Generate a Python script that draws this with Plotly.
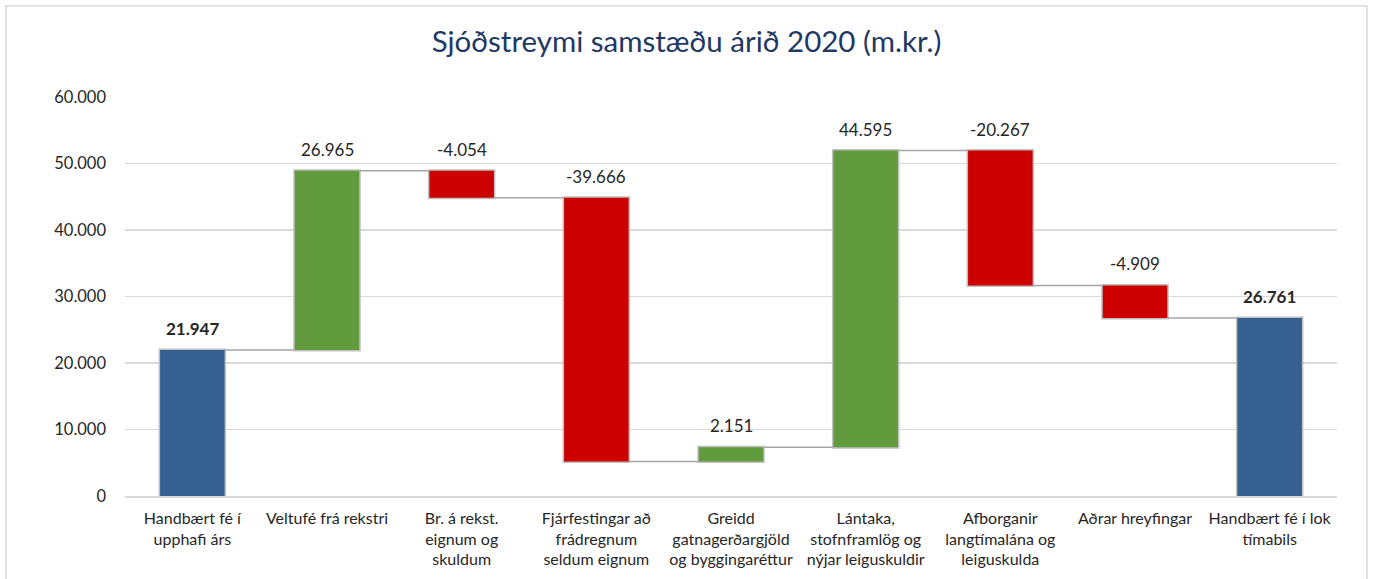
import plotly.graph_objects as go

categories = [
    "Handbært fé í<br>upphafi árs",
    "Veltufé frá rekstri",
    "Br. á rekst.<br>eignum og<br>skuldum",
    "Fjárfestingar að<br>frádregnum<br>seldum eignum",
    "Greidd<br>gatnagerðargjöld<br>og byggingaréttur",
    "Lántaka,<br>stofnframlög og<br>nýjar leiguskuldir",
    "Afborganir<br>langtímalána og<br>leiguskulda",
    "Aðrar hreyfingar",
    "Handbært fé í lok<br>tímabils",
]
values = [21947, 26965, -4054, -39666, 2151, 44595, -20267, -4909, 26761]
measures = ["absolute", "relative", "relative", "relative", "relative",
            "relative", "relative", "relative", "total"]
labels = ["<b>21.947</b>", "26.965", "-4.054", "-39.666", "2.151",
          "44.595", "-20.267", "-4.909", "<b>26.761</b>"]
y_ticks = [0, 10000, 20000, 30000, 40000, 50000, 60000]

W, H = 1373, 579
ML, MT = 125, 97
PW, PH = 1212, 399
MR = W - ML - PW
MB = H - MT - PH

FONT = "Lato"
BLUE = "#376092"
GREEN = "#629B3E"
RED = "#CC0000"
EDGE = "#BFBFBF"

fig = go.Figure()
fig.add_trace(go.Waterfall(
    x=categories, y=values, measure=measures,
    width=0.49,
    increasing=dict(marker=dict(color=GREEN, line=dict(color=EDGE, width=1.5))),
    decreasing=dict(marker=dict(color=RED, line=dict(color=EDGE, width=1.5))),
    totals=dict(marker=dict(color=BLUE, line=dict(color=EDGE, width=1.5))),
    connector=dict(line=dict(color="#A6A6A6", width=1.5), mode="between"),
    hoverinfo="skip",
    showlegend=False,
))

run = 0
tops = []
for v, m in zip(values, measures):
    if m in ("absolute", "total"):
        start, end = 0, v
        run = v
    else:
        start, end = run, run + v
        run = run + v
    tops.append(max(start, end))

for c, t, lab in zip(categories, tops, labels):
    fig.add_annotation(x=c, y=t, text=lab, showarrow=False, yanchor="bottom",
                       yshift=9, font=dict(family=FONT, size=17, color="#262626"))

# outer frame
fx0 = (6 - ML) / PW
fx1 = (1367 - ML) / PW
fy1 = (H - MB - 6) / PH
fy0 = (H - MB - 620) / PH
fig.add_shape(type="rect", xref="paper", yref="paper", x0=fx0, x1=fx1, y0=fy0, y1=fy1,
              line=dict(color="#D9D9D9", width=1.5), layer="below")

fig.update_layout(
    width=W, height=H,
    margin=dict(l=ML, r=MR, t=MT, b=MB, autoexpand=False),
    paper_bgcolor="white", plot_bgcolor="white",
    separators=",.",
    title=dict(text="Sjóðstreymi samstæðu árið 2020 (m.kr.)", x=0.5, xanchor="center",
               xref="container",
               y=1 - 42 / H, yanchor="middle",
               font=dict(family=FONT, size=29.5, color="#1F3864")),
    font=dict(family=FONT, size=16, color="#262626"),
    xaxis=dict(showgrid=False, showline=True, linecolor="#D9D9D9", linewidth=1.5,
               ticks="", ticklabelstandoff=7, automargin=False,
               tickfont=dict(family=FONT, size=16, color="#262626")),
    yaxis=dict(range=[0, 60000], tickvals=y_ticks, tickformat=",d", showgrid=True,
               gridcolor="#D9D9D9", gridwidth=1.2, zeroline=False, showline=False,
               ticks="", ticklabelstandoff=18, automargin=False,
               tickfont=dict(family=FONT, size=16.5, color="#262626")),
)

fig.write_html("out.html", config={"displayModeBar": False, "staticPlot": True},
               post_script="document.body.style.margin='0';document.body.style.overflow='hidden';")
